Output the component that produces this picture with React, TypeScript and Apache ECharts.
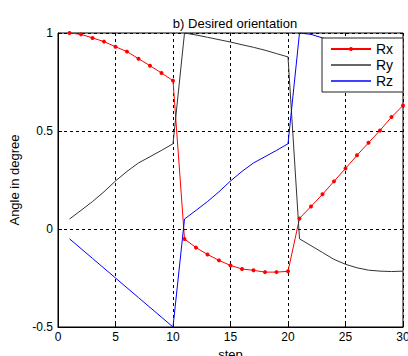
import React, { useEffect, useRef } from "react";
import * as echarts from "echarts";

const steps = Array.from({ length: 30 }, (_, i) => i + 1);
const rx = [1.0, 0.993, 0.975, 0.956, 0.93, 0.905, 0.869, 0.833, 0.796, 0.757,
  -0.051, -0.095, -0.13, -0.16, -0.186, -0.204, -0.211, -0.22, -0.22, -0.216,
  0.054, 0.115, 0.177, 0.243, 0.309, 0.376, 0.44, 0.503, 0.571, 0.63];
const ry = [0.051, 0.095, 0.14, 0.19, 0.245, 0.294, 0.337, 0.369, 0.401, 0.435,
  1.0, 0.99, 0.978, 0.966, 0.954, 0.94, 0.927, 0.912, 0.895, 0.878,
  -0.05, -0.085, -0.12, -0.155, -0.18, -0.198, -0.21, -0.215, -0.217, -0.215];
const rz = [-0.05, -0.1, -0.15, -0.2, -0.25, -0.3, -0.35, -0.4, -0.45, -0.5,
  0.051, 0.095, 0.14, 0.19, 0.245, 0.294, 0.337, 0.369, 0.401, 0.435,
  1.0, 0.993, 0.975, 0.956, 0.93, 0.905, 0.869, 0.833, 0.796, 0.757];
const seriesNames = ["Rx", "Ry", "Rz"];
const colors = ["#ff0000", "#333333", "#0000ff"];

const font = "'Liberation Sans', Arial, sans-serif";
const lineIcon = "path://M0,0 h40 v1.3 h-40 Z";

export default function App() {
  const ref = useRef<HTMLDivElement>(null);
  useEffect(() => {
    if (!ref.current) return;
    const chart = echarts.init(ref.current, undefined, { renderer: "svg" });
    const pair = (arr: number[]) => steps.map((s, i) => [s, arr[i]]);
    chart.setOption({
      animation: false,
      backgroundColor: "#ffffff",
      textStyle: { fontFamily: font },
      title: {
        text: "b) Desired orientation",
        left: 230,
        textAlign: "center",
        top: 12,
        textStyle: { fontSize: 13, fontWeight: "normal", color: "#000", fontFamily: font },
      },
      grid: {
        left: 58, right: 5, top: 33, bottom: 29,
        outerBoundsMode: "none",
        containLabel: false,
        show: true, borderColor: "#000", borderWidth: 1, backgroundColor: "#fff",
      },
      legend: {
        orient: "vertical",
        left: 322, top: 38,
        itemWidth: 40, itemHeight: 5, itemGap: 2,
        padding: [4, 10, 4, 8],
        borderColor: "#222", borderWidth: 1, backgroundColor: "#fff",
        textStyle: { fontSize: 14, color: "#000", fontFamily: font, lineHeight: 14 },
        data: [
          { name: seriesNames[0] },
          { name: seriesNames[1], icon: lineIcon },
          { name: seriesNames[2], icon: lineIcon },
        ],
      },
      xAxis: {
        type: "value", min: 0, max: 30, interval: 5,
        name: "step", nameLocation: "middle", nameGap: 18,
        nameTextStyle: { fontSize: 13, color: "#000", fontFamily: font },
        axisLine: { show: true, onZero: false, lineStyle: { color: "#000" } },
        axisTick: { show: true, inside: true, length: 4, lineStyle: { color: "#000" } },
        axisLabel: { fontSize: 12, color: "#000", margin: 4, fontFamily: font },
        splitLine: { show: true, lineStyle: { color: "#000", type: [3, 3], width: 1 } },
      },
      yAxis: {
        type: "value", min: -0.5, max: 1, interval: 0.5,
        name: "Angle in degree", nameLocation: "middle", nameGap: 36,
        nameTextStyle: { fontSize: 13, color: "#000", fontFamily: font },
        axisLine: { show: true, onZero: false, lineStyle: { color: "#000" } },
        axisTick: { show: true, inside: true, length: 4, lineStyle: { color: "#000" } },
        axisLabel: { fontSize: 12, color: "#000", margin: 5, fontFamily: font },
        splitLine: { show: true, lineStyle: { color: "#000", type: [3, 3], width: 1 } },
      },
      series: [
        {
          name: seriesNames[0], type: "line", data: pair(rx),
          symbol: "circle", symbolSize: 4, showSymbol: true,
          lineStyle: { color: colors[0], width: 1 },
          itemStyle: { color: colors[0] },
        },
        {
          name: seriesNames[1], type: "line", data: pair(ry),
          symbol: "none",
          lineStyle: { color: colors[1], width: 1 },
          itemStyle: { color: colors[1] },
        },
        {
          name: seriesNames[2], type: "line", data: pair(rz),
          symbol: "none",
          lineStyle: { color: colors[2], width: 1 },
          itemStyle: { color: colors[2] },
        },
      ],
    });
    return () => chart.dispose();
  }, []);
  return <div ref={ref} style={{ width: 408, height: 356, position: "absolute", left: 0, top: 0 }} />;
}
